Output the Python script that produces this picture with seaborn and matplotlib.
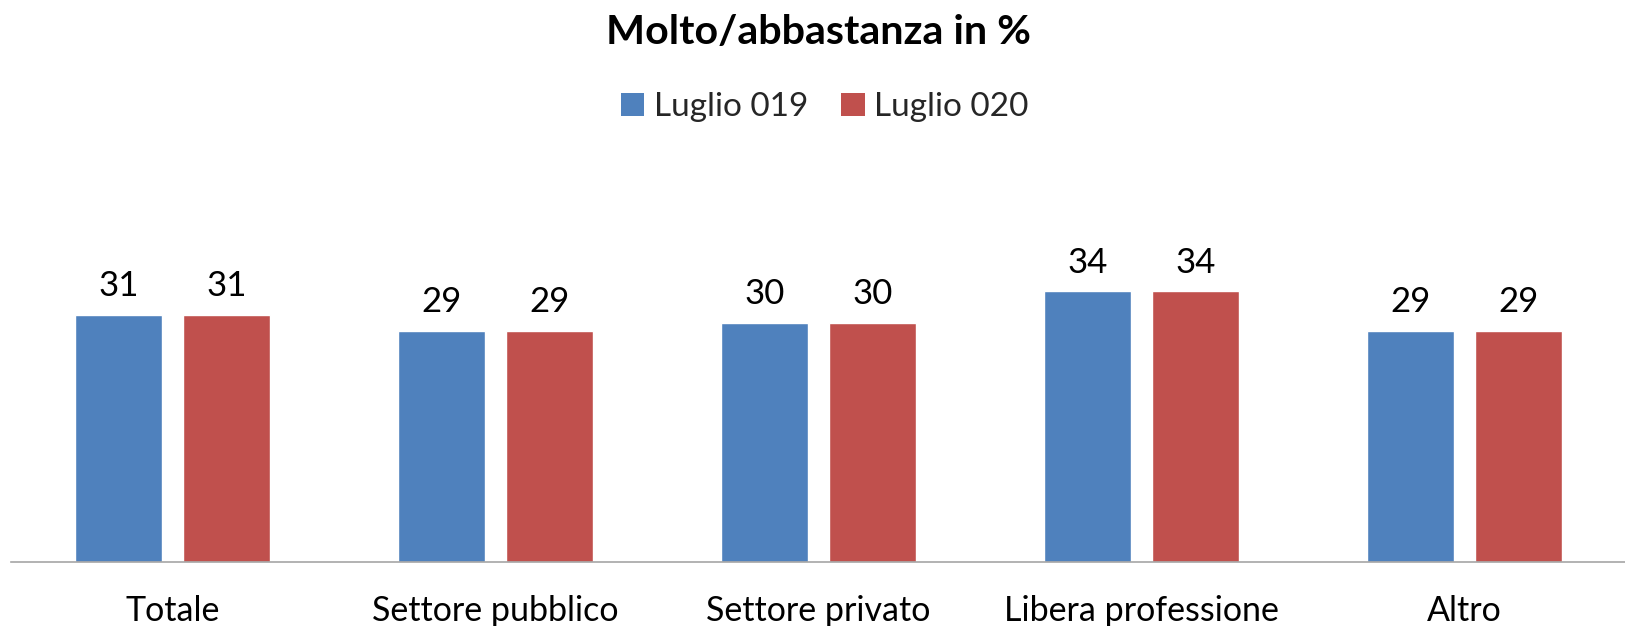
import matplotlib
matplotlib.use("Agg")
import matplotlib.pyplot as plt
import seaborn as sns
import pandas as pd
from matplotlib.patches import Patch

categories = ["Totale", "Settore pubblico", "Settore privato", "Libera professione", "Altro"]
series = ["Luglio 019", "Luglio 020"]
values_2019 = [31, 29, 30, 34, 29]
values_2020 = [31, 29, 30, 34, 29]
title = "Molto/abbastanza in %"

sns.set_theme(style="white")
plt.rcParams["font.family"] = ["Lato", "DejaVu Sans"]

df = pd.DataFrame({
    "categoria": categories * 2,
    "serie": [series[0]] * len(categories) + [series[1]] * len(categories),
    "valore": values_2019 + values_2020,
})

fig = plt.figure(figsize=(16.25, 6.26), dpi=100)
ax = fig.add_axes([11 / 1625, 64 / 626, 1615 / 1625, 392 / 626])

palette = {series[0]: "#4F81BD", series[1]: "#C0504D"}
sns.barplot(data=df, x="categoria", y="valore", hue="serie", order=categories,
            hue_order=series, palette=palette, width=0.669, gap=0.195,
            saturation=1, ax=ax, legend=False)

ax.set_xlim(-0.5, len(categories) - 0.5)
ax.set_ylim(0, 392 / 7.97)
for c in ax.containers:
    ax.bar_label(c, labels=[f"{v:.0f}" for v in c.datavalues], padding=9,
                 fontsize=25, color="black")

ax.set_xlabel("")
ax.set_ylabel("")
ax.set_yticks([])
ax.tick_params(axis="x", length=0, labelsize=24.5, pad=24, colors="black")
for s in ["top", "right", "left"]:
    ax.spines[s].set_visible(False)
ax.spines["bottom"].set_color("#A6A6A6")
ax.spines["bottom"].set_linewidth(1.2)

fig.text(0.5035, 1 - 32 / 626, title, ha="center", va="center",
         fontsize=29.7, fontweight="bold", color="black")

handles = [Patch(facecolor=palette[s], edgecolor="none") for s in series]
fig.legend(handles, series, loc="center", bbox_to_anchor=(0.5075, 1 - 107 / 626),
           ncol=2, frameon=False, fontsize=24, handlelength=0.7, handleheight=0.7,
           handletextpad=0.28, columnspacing=1.0)

fig.savefig("out.png", dpi=100)
